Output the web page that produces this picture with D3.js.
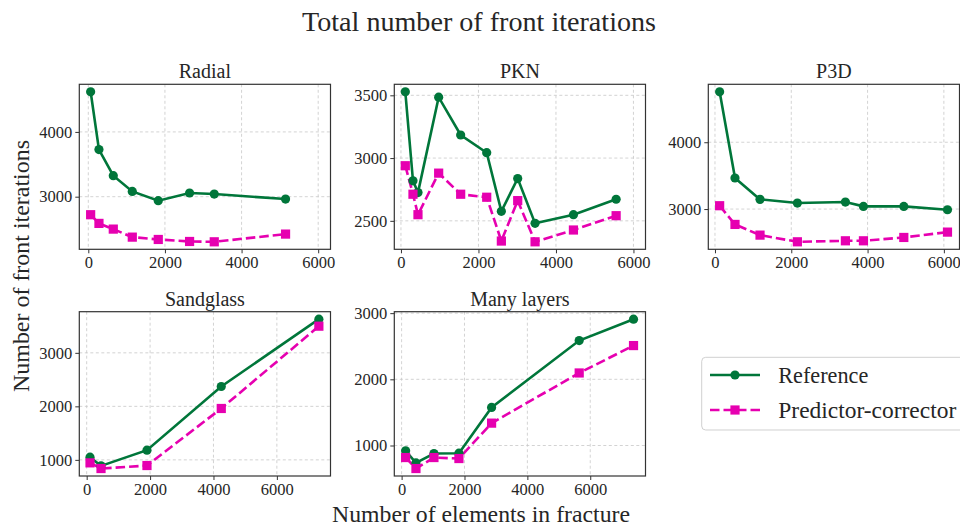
<!DOCTYPE html>
<html>
<head>
<meta charset="utf-8">
<script src="https://cdn.jsdelivr.net/npm/d3@7"></script>
<style>
  body { margin: 0; background: #fff; }
  svg { display: block; }
</style>
</head>
<body>
<svg id="chart" width="960" height="527"></svg>
<script>
// ---- Data: number of elements in fracture vs. total front iterations ----
const radialElements  = [61, 278, 652, 1148, 1826, 2643, 3287, 5148];
const radialReference = [4619, 3727, 3325, 3082, 2938, 3057, 3041, 2964];
const radialPredictor = [2722, 2588, 2500, 2376, 2340, 2309, 2304, 2423];

const pknElements  = [112, 310, 439, 973, 1541, 2213, 2591, 3013, 3461, 4451, 5553];
const pknReference = [3528, 2819, 2725, 3485, 3184, 3043, 2576, 2837, 2480, 2549, 2672];
const pknPredictor = [2939, 2712, 2549, 2880, 2712, 2688, 2339, 2661, 2333, 2427, 2541];

const p3dElements  = [122, 525, 1181, 2160, 3419, 3892, 4950, 6095];
const p3dReference = [4755, 3465, 3145, 3090, 3105, 3040, 3040, 2990];
const p3dPredictor = [3050, 2770, 2610, 2510, 2525, 2525, 2575, 2655];

const sandglassElements  = [105, 452, 1902, 4246, 7325];
const sandglassReference = [1050, 888, 1181, 2371, 3629];
const sandglassPredictor = [944, 838, 894, 1960, 3498];

const layersElements  = [127, 456, 1028, 1823, 2862, 5649, 7377];
const layersReference = [919, 737, 879, 884, 1576, 2586, 2909];
const layersPredictor = [818, 652, 818, 803, 1338, 2096, 2510];

const xTickValues = [0, 2000, 4000, 6000];
const seriesNames = ["Reference", "Predictor-corrector"];

// ---- Panel configuration ----
const panels = [
  { title: "Radial",      col: 0, row: 0, x: radialElements,    ref: radialReference,    pc: radialPredictor,    xLim: [-235, 6321], yTicks: [3000, 4000] },
  { title: "PKN",         col: 1, row: 0, x: pknElements,       ref: pknReference,       pc: pknPredictor,       xLim: [-172, 6311], yTicks: [2500, 3000, 3500] },
  { title: "P3D",         col: 2, row: 0, x: p3dElements,       ref: p3dReference,       pc: p3dPredictor,       xLim: [-175, 6410], yTicks: [3000, 4000] },
  { title: "Sandglass",   col: 0, row: 1, x: sandglassElements, ref: sandglassReference, pc: sandglassPredictor, xLim: [-233, 7692], yTicks: [1000, 2000, 3000] },
  { title: "Many layers", col: 1, row: 1, x: layersElements,    ref: layersReference,    pc: layersPredictor,    xLim: [-233, 7758], yTicks: [1000, 2000, 3000] }
];

// ---- Layout & style ----
const colLeft = [79.3, 394.3, 708.3];
const rowTop = [84.3, 311.7];
const panelW = 251.2;
const panelH = [165, 164.3];
const FONT = "'Liberation Serif', 'DejaVu Serif', serif";
const GREEN = "#00763a";
const PINK = "#e600b0";
const TEXT = "#262626";

const svg = d3.select("#chart");

// Scale a text element's font so its rendered width matches a target width.
function fitWidth(sel, target) {
  const node = sel.node();
  const fs = parseFloat(sel.attr("font-size"));
  const w = node.getComputedTextLength();
  if (w > 0) sel.attr("font-size", (fs * target / w).toFixed(2));
  return sel;
}

// Figure title
fitWidth(svg.append("text")
  .attr("x", 479).attr("y", 31)
  .attr("text-anchor", "middle")
  .attr("font-family", FONT).attr("font-size", 28)
  .attr("fill", TEXT)
  .text("Total number of front iterations"), 354);

// Shared axis labels
fitWidth(svg.append("text")
  .attr("x", 481).attr("y", 521.5)
  .attr("text-anchor", "middle")
  .attr("font-family", FONT).attr("font-size", 22)
  .attr("fill", TEXT)
  .text("Number of elements in fracture"), 298);

fitWidth(svg.append("text")
  .attr("transform", "translate(28.5,266) rotate(-90)")
  .attr("text-anchor", "middle")
  .attr("font-family", FONT).attr("font-size", 22)
  .attr("fill", TEXT)
  .text("Number of front iterations"), 252);

const line = (xs, ys, x, y) =>
  d3.line().x((d, i) => x(xs[i])).y(d => y(d))(ys);

panels.forEach(p => {
  const left = colLeft[p.col], top = rowTop[p.row], h = panelH[p.row];
  const all = p.ref.concat(p.pc);
  const lo = d3.min(all), hi = d3.max(all), pad = (hi - lo) * 0.05;

  const x = d3.scaleLinear().domain(p.xLim).range([0, panelW]);
  const y = d3.scaleLinear().domain([lo - pad, hi + pad]).range([h, 0]);

  const g = svg.append("g").attr("transform", `translate(${left},${top})`);

  // grid
  const grid = g.append("g").attr("stroke", "#c8c8c8").attr("stroke-width", 0.8)
    .attr("stroke-dasharray", "3,2.5");
  grid.selectAll(".gx").data(xTickValues).join("line")
    .attr("x1", d => x(d)).attr("x2", d => x(d)).attr("y1", 0).attr("y2", h);
  grid.selectAll(".gy").data(p.yTicks).join("line")
    .attr("y1", d => y(d)).attr("y2", d => y(d)).attr("x1", 0).attr("x2", panelW);

  // axes
  const xAxis = g.append("g").attr("transform", `translate(0,${h})`)
    .call(d3.axisBottom(x).tickValues(xTickValues).tickFormat(d3.format("d")).tickSize(4).tickPadding(3).tickSizeOuter(0));
  const yAxis = g.append("g")
    .call(d3.axisLeft(y).tickValues(p.yTicks).tickFormat(d3.format("d")).tickSize(4).tickPadding(3).tickSizeOuter(0));
  [xAxis, yAxis].forEach(a => {
    a.attr("font-family", FONT).attr("font-size", 16.5);
    a.select(".domain").remove();
    a.selectAll("line").attr("stroke", "#333").attr("stroke-width", 1);
    a.selectAll("text").attr("fill", TEXT);
  });

  // series
  g.append("path").attr("d", line(p.x, p.pc, x, y))
    .attr("fill", "none").attr("stroke", PINK).attr("stroke-width", 2.6)
    .attr("stroke-dasharray", "9.5,4");
  g.append("path").attr("d", line(p.x, p.ref, x, y))
    .attr("fill", "none").attr("stroke", GREEN).attr("stroke-width", 2.6);
  g.selectAll(".mref").data(p.ref).join("circle")
    .attr("cx", (d, i) => x(p.x[i])).attr("cy", d => y(d)).attr("r", 4.6)
    .attr("fill", GREEN);
  g.selectAll(".mpc").data(p.pc).join("rect")
    .attr("x", (d, i) => x(p.x[i]) - 4.6).attr("y", d => y(d) - 4.6)
    .attr("width", 9.2).attr("height", 9.2).attr("fill", PINK);

  // frame
  g.append("rect").attr("width", panelW).attr("height", h)
    .attr("fill", "none").attr("stroke", "#333").attr("stroke-width", 1.2);

  // panel title
  g.append("text")
    .attr("x", panelW / 2).attr("y", -6)
    .attr("text-anchor", "middle")
    .attr("font-family", FONT).attr("font-size", 20)
    .attr("fill", TEXT)
    .text(p.title);
});

// ---- Legend ----
const lg = svg.append("g").attr("transform", "translate(701.7,357.3)");
lg.append("rect").attr("width", 270).attr("height", 72.7).attr("rx", 4)
  .attr("fill", "#fff").attr("stroke", "#d0d0d0").attr("stroke-width", 1);
const rows = [
  { name: seriesNames[0], color: GREEN, dash: null, shape: "circle", cy: 17.7, width: 90 },
  { name: seriesNames[1], color: PINK, dash: "9.5,4", shape: "square", cy: 52.7, width: 178 }
];
rows.forEach(r => {
  lg.append("line").attr("x1", 8.3).attr("x2", 58.3).attr("y1", r.cy).attr("y2", r.cy)
    .attr("stroke", r.color).attr("stroke-width", 2.6)
    .attr("stroke-dasharray", r.dash);
  if (r.shape === "circle") {
    lg.append("circle").attr("cx", 33.3).attr("cy", r.cy).attr("r", 4.6).attr("fill", r.color);
  } else {
    lg.append("rect").attr("x", 33.3 - 4.6).attr("y", r.cy - 4.6).attr("width", 9.2).attr("height", 9.2).attr("fill", r.color);
  }
  fitWidth(lg.append("text").attr("x", 76.6).attr("y", r.cy + 8.5)
    .attr("font-family", FONT).attr("font-size", 22).attr("fill", TEXT)
    .text(r.name), r.width);
});
</script>
</body>
</html>
